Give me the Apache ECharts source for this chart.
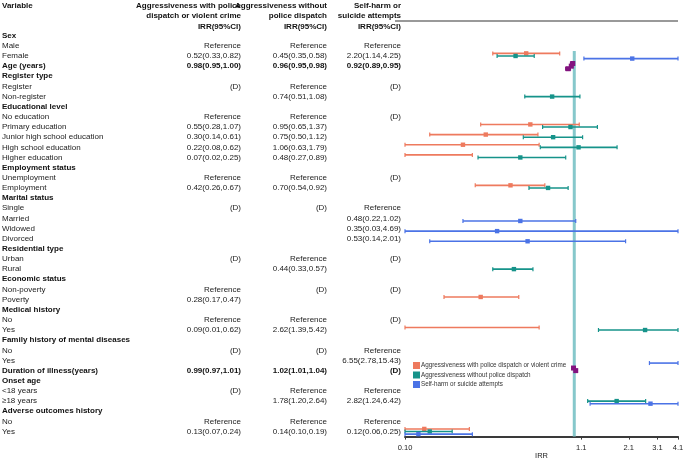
<!DOCTYPE html>
<html>
<head>
<meta charset="utf-8">
<script src="https://cdn.jsdelivr.net/npm/echarts@6/dist/echarts.min.js"></script>
<style>html,body{margin:0;padding:0;background:#fff}#c{width:685px;height:459px}</style>
</head>
<body>
<div id="c"></div>
<script>
// ---------------- DATA ----------------
const rowLabels = ['Sex','Male','Female','Age (years)','Register type','Register','Non-register',
  'Educational level','No education','Primary education','Junior high school education','High school education','Higher education',
  'Employment status','Unemployment','Employment','Marital status','Single','Married','Widowed','Divorced',
  'Residential type','Urban','Rural','Economic status','Non-poverty','Poverty','Medical history','No','Yes',
  'Family history of mental diseases','No','Yes','Duration of illness(years)','Onset age','<18 years','\u226518 years',
  'Adverse outcomes history','No','Yes'];
const sectionHeaders = ['Sex','Register type','Educational level','Employment status','Marital status','Residential type',
  'Economic status','Medical history','Family history of mental diseases','Onset age','Adverse outcomes history'];
const continuousVars = ['Age (years)','Duration of illness(years)'];

const seriesNames = ['Aggressiveness with police dispatch or violent crime','Aggressiveness without police dispatch','Self-harm or suicide attempts'];
const headerLine1 = ['Aggressiveness with police','Aggressiveness without','Self-harm or'];
const headerLine2 = ['dispatch or violent crime','police dispatch','suicide attempts'];
const headerLine3 = ['IRR(95%CI)','IRR(95%CI)','IRR(95%CI)'];

const col1Text = ['','Reference','0.52(0.33,0.82)','0.98(0.95,1.00)','','(D)','','','Reference','0.55(0.28,1.07)','0.30(0.14,0.61)','0.22(0.08,0.62)','0.07(0.02,0.25)',
  '','Reference','0.42(0.26,0.67)','','(D)','','','','','(D)','','','Reference','0.28(0.17,0.47)','','Reference','0.09(0.01,0.62)',
  '','(D)','','0.99(0.97,1.01)','','(D)','','','Reference','0.13(0.07,0.24)'];
const col2Text = ['','Reference','0.45(0.35,0.58)','0.96(0.95,0.98)','','Reference','0.74(0.51,1.08)','','Reference','0.95(0.65,1.37)','0.75(0.50,1.12)','1.06(0.63,1.79)','0.48(0.27,0.89)',
  '','Reference','0.70(0.54,0.92)','','(D)','','','','','Reference','0.44(0.33,0.57)','','(D)','','','Reference','2.62(1.39,5.42)',
  '','(D)','','1.02(1.01,1.04)','','Reference','1.78(1.20,2.64)','','Reference','0.14(0.10,0.19)'];
const col3Text = ['','Reference','2.20(1.14,4.25)','0.92(0.89,0.95)','','(D)','','','(D)','','','','',
  '','(D)','','','Reference','0.48(0.22,1.02)','0.35(0.03,4.69)','0.53(0.14,2.01)','','(D)','','','(D)','','','(D)','',
  '','Reference','6.55(2.78,15.43)','(D)','','Reference','2.82(1.24,6.42)','','Reference','0.12(0.06,0.25)'];

const N = null;
const est1 = [N,N,0.52,0.98,N,N,N,N,N,0.55,0.30,0.22,0.07,N,N,0.42,N,N,N,N,N,N,N,N,N,N,0.28,N,N,0.09,N,N,N,0.99,N,N,N,N,N,0.13];
const lo1  = [N,N,0.33,0.95,N,N,N,N,N,0.28,0.14,0.08,0.02,N,N,0.26,N,N,N,N,N,N,N,N,N,N,0.17,N,N,0.01,N,N,N,0.97,N,N,N,N,N,0.07];
const hi1  = [N,N,0.82,1.00,N,N,N,N,N,1.07,0.61,0.62,0.25,N,N,0.67,N,N,N,N,N,N,N,N,N,N,0.47,N,N,0.62,N,N,N,1.01,N,N,N,N,N,0.24];

const est2 = [N,N,0.45,0.96,N,N,0.74,N,N,0.95,0.75,1.06,0.48,N,N,0.70,N,N,N,N,N,N,N,0.44,N,N,N,N,N,2.62,N,N,N,1.02,N,N,1.78,N,N,0.14];
const lo2  = [N,N,0.35,0.95,N,N,0.51,N,N,0.65,0.50,0.63,0.27,N,N,0.54,N,N,N,N,N,N,N,0.33,N,N,N,N,N,1.39,N,N,N,1.01,N,N,1.20,N,N,0.10];
const hi2  = [N,N,0.58,0.98,N,N,1.08,N,N,1.37,1.12,1.79,0.89,N,N,0.92,N,N,N,N,N,N,N,0.57,N,N,N,N,N,5.42,N,N,N,1.04,N,N,2.64,N,N,0.19];

const est3 = [N,N,2.20,0.92,N,N,N,N,N,N,N,N,N,N,N,N,N,N,0.48,0.35,0.53,N,N,N,N,N,N,N,N,N,N,N,6.55,N,N,N,2.82,N,N,0.12];
const lo3  = [N,N,1.14,0.89,N,N,N,N,N,N,N,N,N,N,N,N,N,N,0.22,0.03,0.14,N,N,N,N,N,N,N,N,N,N,N,2.78,N,N,N,1.24,N,N,0.06];
const hi3  = [N,N,4.25,0.95,N,N,N,N,N,N,N,N,N,N,N,N,N,N,1.02,4.69,2.01,N,N,N,N,N,N,N,N,N,N,N,15.43,N,N,N,6.42,N,N,0.25];

const xTicks = [0.1, 1.1, 2.1, 3.1, 4.1];
const X_MIN = 0.1, X_MAX = 4.1, REF_VALUE = 1;

// ---------------- STYLE ----------------
const FONT = 'Liberation Sans, Arial, Helvetica, sans-serif';
const colors = ['#EE7A5E', '#16938A', '#4B73E6'];
const purple = '#82137F';
const offsets = [-2.6, 0, 2.6];

const chart = echarts.init(document.getElementById('c'), null, {renderer: 'canvas'});
const cats = rowLabels.map((_, i) => String(i));
const isBold = i => sectionHeaders.includes(rowLabels[i]) || continuousVars.includes(rowLabels[i]);
const fmtRow = arr => (v, i) => { const t = arr[Number(v)]; if (!t) return ''; return (isBold(Number(v)) ? '{b|' : '{n|') + t + '}'; };
const rich = {
  n: {fontSize: 8, fontFamily: FONT, color: '#222'},
  b: {fontSize: 8, fontFamily: FONT, color: '#111', fontWeight: 'bold'}
};
function yAx(arr, margin, align) {
  return {type: 'category', data: cats, inverse: true, gridIndex: 0, position: 'left',
    axisLine: {show: false}, axisTick: {show: false}, splitLine: {show: false},
    axisLabel: {interval: 0, margin: margin, align: align, formatter: fmtRow(arr), rich: rich}};
}

function buildData(est, lo, hi) {
  const out = [];
  for (let i = 0; i < rowLabels.length; i++) {
    if (lo[i] == null) continue;
    out.push([i, est[i], lo[i], hi[i]]);
  }
  return out;
}

function makeRender(k) {
  return function (params, api) {
    const row = api.value(0), est = api.value(1), lo = api.value(2), hi = api.value(3);
    const cont = continuousVars.includes(rowLabels[row]);
    const c = cont ? purple : colors[k];
    const cl = Math.max(lo, X_MIN), ch = Math.min(hi, X_MAX);
    const pL = api.coord([cl, row]);
    const pH = api.coord([ch, row]);
    const y = pL[1] + offsets[k];
    const w = cont ? 3 : 1.6;
    const ls = {stroke: c, lineWidth: w};
    const children = [
      {type: 'line', shape: {x1: pL[0], y1: y, x2: pH[0], y2: y}, style: ls},
      {type: 'line', shape: {x1: pL[0], y1: y - 2, x2: pL[0], y2: y + 2}, style: {stroke: c, lineWidth: 1.2}},
      {type: 'line', shape: {x1: pH[0], y1: y - 2, x2: pH[0], y2: y + 2}, style: {stroke: c, lineWidth: 1.2}}
    ];
    if (est >= X_MIN && est <= X_MAX) {
      const p = api.coord([est, row]);
      const s = cont ? 5 : 4.4;
      children.push({type: 'rect', shape: {x: p[0] - s / 2, y: y - s / 2, width: s, height: s}, style: {fill: c}});
    }
    return {type: 'group', children: children};
  };
}

const series = [{
  type: 'custom', name: 'ref', silent: true, z: 1, clip: false,
  data: [[REF_VALUE, 2]],
  encode: {x: 0, y: 1},
  renderItem: function (params, api) {
    const top = api.coord([api.value(0), 2]);
    const bot = api.coord([api.value(0), rowLabels.length - 1]);
    const band = api.size([0, 1])[1];
    return {type: 'line', shape: {x1: top[0], y1: top[1] - band / 2, x2: top[0], y2: bot[1] + band / 2},
      style: {stroke: '#86C8CB', lineWidth: 3}};
  }
}];
const ests = [est1, est2, est3], los = [lo1, lo2, lo3], his = [hi1, hi2, hi3];
for (let k = 0; k < 3; k++) {
  series.push({
    type: 'custom', name: seriesNames[k], z: 3, clip: false,
    itemStyle: {color: colors[k]},
    data: buildData(ests[k], los[k], his[k]),
    encode: {x: [1, 2, 3], y: 0},
    renderItem: makeRender(k)
  });
}

const hdrFont = 'bold 8px ' + FONT;
const colRight = [241, 327, 401];
const graphics = [{type: 'text', style: {x: 2, y: 6, text: 'Variable', font: hdrFont, fill: '#111', verticalAlign: 'middle', align: 'left'}}];
for (let k = 0; k < 3; k++) {
  graphics.push({type: 'text', style: {x: colRight[k], y: 6, text: headerLine1[k], font: hdrFont, fill: '#111', verticalAlign: 'middle', align: 'right'}});
  graphics.push({type: 'text', style: {x: colRight[k], y: 16, text: headerLine2[k], font: hdrFont, fill: '#111', verticalAlign: 'middle', align: 'right'}});
  graphics.push({type: 'text', style: {x: colRight[k], y: 27, text: headerLine3[k], font: hdrFont, fill: '#111', verticalAlign: 'middle', align: 'right'}});
}
graphics.push({type: 'line', z: -1, shape: {x1: 395, y1: 21, x2: 678, y2: 21}, style: {stroke: '#777', lineWidth: 1.5}});

chart.setOption({
  animation: false,
  backgroundColor: '#fff',
  textStyle: {fontFamily: FONT},
  grid: {left: 405, right: 7, top: 30.6, height: 406, containLabel: false, outerBoundsMode: 'none'},
  legend: {
    data: seriesNames, orient: 'vertical', left: 408, top: 357, icon: 'rect',
    itemWidth: 7, itemHeight: 7, itemGap: 2.5,
    textStyle: {fontSize: 6.3, color: '#333', fontFamily: FONT, padding: [0, 0, 0, -4]}
  },
  xAxis: {
    type: 'log', logBase: 10, min: X_MIN, max: X_MAX,
    axisLine: {show: true, lineStyle: {color: '#3a3a3a', width: 2}},
    axisTick: {show: true, customValues: xTicks, length: 3, lineStyle: {color: '#3a3a3a', width: 1}},
    axisLabel: {customValues: xTicks, fontSize: 7.5, color: '#222', margin: 7, fontFamily: FONT,
      formatter: v => (v < 1 ? Number(v).toFixed(2) : Number(v).toFixed(1))},
    splitLine: {show: false},
    name: 'IRR', nameLocation: 'middle', nameGap: 15, nameMoveOverlap: false,
    nameTextStyle: {fontSize: 7.5, color: '#222', fontFamily: FONT, verticalAlign: 'top'}
  },
  yAxis: [yAx(rowLabels, 403, 'left'), yAx(col1Text, 164, 'right'), yAx(col2Text, 78, 'right'), yAx(col3Text, 4, 'right')],
  graphic: graphics,
  series: series
});
</script>
</body>
</html>
